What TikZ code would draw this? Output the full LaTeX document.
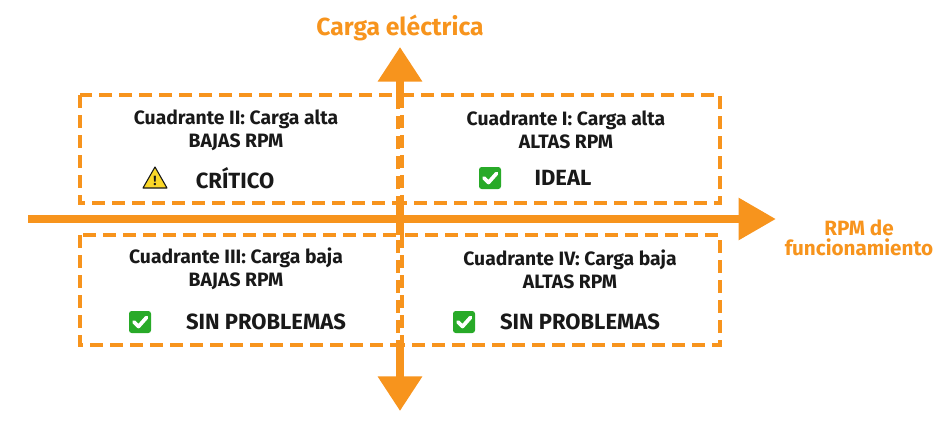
\documentclass[tikz,border=0pt]{standalone}
\usepackage{fontspec}
\setmainfont{Fira Sans}
\usetikzlibrary{arrows.meta,positioning}
\definecolor{naranja}{RGB}{247,148,29}
\definecolor{tinta}{RGB}{25,25,25}
\definecolor{verde}{RGB}{40,170,40}
\definecolor{amarillo}{RGB}{250,215,40}
\tikzset{
  cuadro/.style={draw=naranja,line width=3.2pt,dash pattern=on 10pt off 5pt},
  texto/.style={font=\bfseries\fontsize{14.5}{17}\selectfont,text=tinta,align=center},
  estado/.style={font=\bfseries\fontsize{16.5}{19}\selectfont,text=tinta},
  eje/.style={font=\bfseries\fontsize{18.5}{21}\selectfont,text=naranja,align=center},
  okicon/.pic={
    \fill[verde,rounded corners=2pt] (-11,-11) rectangle (11,11);
    \draw[white,line width=2.8pt,line cap=round,line join=round] (-6,0) -- (-1.5,4.5) -- (6.5,-4.5);
  },
  warnicon/.pic={
    \fill[amarillo,draw=tinta,line width=0.8pt,line join=round] (-12,10) -- (0,-11) -- (12,10) -- cycle;
    \node[font=\bfseries\fontsize{10}{10}\selectfont,text=tinta] at (0,2.5) {!};
  }
}
\begin{document}
\begin{tikzpicture}[x=0.75pt,y=-0.75pt]
\useasboundingbox (0,0) rectangle (940,421);

% -- cuadrantes --
\draw[cuadro] (80,95) rectangle (398,203);
\draw[cuadro] (402,95) rectangle (720,203);
\draw[cuadro] (80,235) rectangle (398,345);
\draw[cuadro] (402,235) rectangle (720,345);

% -- ejes --
\coordinate (ejeIzq) at (28,219);
\coordinate (ejeDer) at (776,219);
\coordinate (ejeArr) at (400,47);
\coordinate (ejeAbj) at (400,411);
\coordinate (ejeArrBase) at (400,97);
\coordinate (ejeAbjBase) at (400,343);
\draw[naranja,line width=6.5pt,-{Triangle[length=28pt,width=30pt]}] (ejeIzq) -- (ejeDer);
\draw[naranja,line width=6pt,-{Triangle[length=26pt,width=32pt]}] (ejeArrBase) -- (ejeArr);
\draw[naranja,line width=6pt,-{Triangle[length=26pt,width=32pt]}] (ejeAbjBase) -- (ejeAbj);
\draw[naranja,line width=6pt] (400,203) -- (400,235);

\node[eje] (cargaLabel) at (400,28) {Carga eléctrica};
\node[eje,font=\bfseries\fontsize{15.5}{18}\selectfont] (rpmLabel) at (859,238) {RPM de\\[-3pt]funcionamiento};

% -- textos de cada cuadrante --
\node[texto] (qII) at (236,130) {Cuadrante II: Carga alta\\BAJAS RPM};
\node[estado] (qIIestado) at (235,178) {CRÍTICO};
\pic at (155,178) {warnicon};

\node[texto] (qI) at (566,130) {Cuadrante I: Carga alta\\ALTAS RPM};
\node[estado] (qIestado) at (563,178) {IDEAL};
\pic at (490,178) {okicon};

\node[texto] (qIII) at (236,269) {Cuadrante III: Carga baja\\BAJAS RPM};
\node[estado] (qIIIestado) at (266,322) {SIN PROBLEMAS};
\pic at (140,322) {okicon};

\node[texto] (qIV) at (570,269) {Cuadrante IV: Carga baja\\ALTAS RPM};
\node[estado] (qIVestado) at (580,322) {SIN PROBLEMAS};
\pic at (464,322) {okicon};
\end{tikzpicture}
\end{document}
